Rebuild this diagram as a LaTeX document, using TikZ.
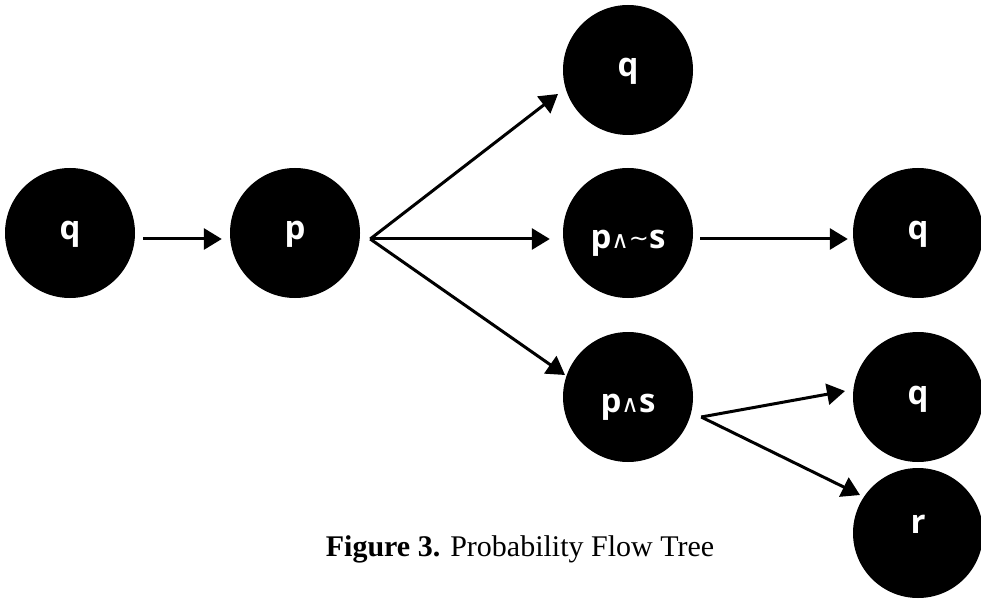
\documentclass[tikz,border=0pt]{standalone}
\usepackage{fontspec}
\setmainfont{Liberation Serif}
\newfontfamily\nodefont{Open Sans}
\newfontfamily\symfont{DejaVu Sans}
\usetikzlibrary{arrows.meta,calc}
\newcommand{\andsym}{{\symfont\fontsize{24}{24}\selectfont\mdseries∧}}
\newcommand{\notsym}{{\symfont\fontsize{24}{24}\selectfont\mdseries\raisebox{2pt}{\textasciitilde}}}
\begin{document}
\begin{tikzpicture}[x=1pt,y=-1pt,
  state/.style={circle,fill=black,minimum size=130pt,inner sep=0pt,text=white,
    text height=24pt,text depth=10pt,
    font=\nodefont\bfseries\fontsize{33}{33}\selectfont},
  flow/.style={line width=3pt,-{Triangle[length=18pt,width=21pt]}}]
\useasboundingbox (0,0) rectangle (981,601);
% nodes
\node[state] (q0) at (70,233) {q};
\node[state] (p) at (295,233) {p};
\node[state] (qtop) at (628,70) {q};
\node[state] (pns) at (628,233) {\raisebox{-9pt}{p\andsym\notsym s}};
\node[state] (qmid) at (918,233) {q};
\node[state] (ps) at (628,397) {\raisebox{-8pt}{p\andsym s}};
\node[state] (qlow) at (918,397) {q};
\node[state] (r) at (918,533) {\raisebox{7pt}{r}};
% fan points
\coordinate (pfan) at ($(p.east)+(10,6)$);
\coordinate (psfan) at ($(ps.east)+(8,20)$);
% arrows
\draw[flow] ($(q0.east)+(8,6)$) -- ($(p.west)+(-8,6)$);
\draw[flow] (pfan) -- ($(qtop.center)+(-70,24)$);
\draw[flow] (pfan) -- ($(pns.west)+(-13,6)$);
\draw[flow] (pfan) -- ($(ps.center)+(-63,-22)$);
\draw[flow] ($(pns.east)+(7,6)$) -- ($(qmid.west)+(-5,6)$);
\draw[flow] (psfan) -- ($(qlow.center)+(-73,-6)$);
\draw[flow] (psfan) -- ($(r.center)+(-58,-38)$);
% caption
\node[anchor=base,font=\fontsize{30}{30}\selectfont] (cap) at (520,556) {\textbf{Figure 3.} Probability Flow Tree};
\end{tikzpicture}
\end{document}
